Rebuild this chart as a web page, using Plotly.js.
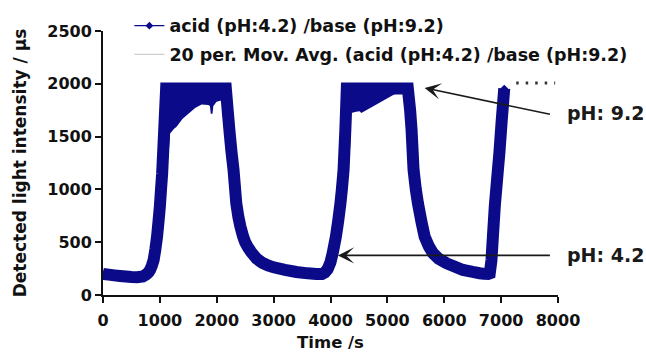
<!DOCTYPE html>
<html>
<head>
<meta charset="utf-8">
<script src="https://cdn.plot.ly/plotly-3.0.1.min.js"></script>
<style>html,body{margin:0;padding:0;background:#fff;}#chart{width:646px;height:352px;}</style>
</head>
<body>
<div id="chart"></div>
<script>
// ---- data (band centre of the detected signal) ----
const timeS = [0,100,200,300,400,500,600,700,760,800,830,860,890,920,950,975,1000,1020,1040,1075,1110,
  1300,1500,1700,1900,2100,2160,
  2200,2225,2260,2295,2343,2380,2416,2460,2500,2550,2600,2700,2800,2900,3000,3200,3400,3600,3750,3850,3900,
  3950,4000,4040,4095,4135,4175,4200,4230,4260,4287,
  4500,4700,4900,5100,5300,5360,
  5400,5425,5460,5500,5537,5600,5655,5730,5801,5900,6037,6200,6329,6500,6623,6700,6769,6800,
  6830,6855,6890,6930,6970,7010,7055];
const intensity = [200,193,186,180,175,170,168,175,195,215,240,280,330,430,550,690,840,1000,1150,1550,1955,
  1955,1955,1955,1955,1955,1955,
  1700,1546,1350,1186,870,740,648,560,500,450,410,345,305,280,262,238,218,205,198,198,212,
  245,310,400,553,700,870,1000,1186,1550,1955,
  1955,1955,1955,1955,1955,1955,
  1750,1566,1186,1000,870,690,553,460,396,345,301,265,237,218,206,200,199,205,
  330,550,850,1100,1350,1650,1955];

// noisy saturated region (outline of the point cloud) in the two base phases
const cloud1T = [1060,1150,1165,1170,1180,1250,1294,1400,1522,1620,1733,1850,1880,1895,1925,1940,1997,2060,2150,2150,2200,2240,2240,1060];
const cloud1V = [1186,1300,1420,1480,1530,1575,1594,1670,1727,1770,1803,1800,1790,1717,1717,1790,1831,1840,1840,1500,1186,1186,1955,1955];
const cloud2T = [4220,4320,4350,4362,4366,4450,4512,4542,4700,4900,5100,5274,5350,5350,5400,5440,5440,4220];
const cloud2V = [1186,1186,1450,1600,1724,1735,1739,1724,1770,1830,1890,1945,1945,1600,1186,1186,1955,1955];

const seriesName = 'acid (pH:4.2) /base (pH:9.2)';
const avgName = '20 per. Mov. Avg. (acid (pH:4.2) /base (pH:9.2)';
const xTicks = [0,1000,2000,3000,4000,5000,6000,7000,8000];
const yTicks = [0,500,1000,1500,2000,2500];

const NAVY = '#0b0b8a';
const FONT = 'DejaVu Sans';

const traces = [
  { // moving average (lies under the data band)
    x: timeS, y: intensity, mode: 'lines', name: avgName,
    line: {color: '#cfcfcf', width: 1.2}, legendgroup: 'b', legendrank: 2, hoverinfo: 'skip'
  },
  { // thick band of dense points
    x: timeS, y: intensity, mode: 'lines', showlegend: false,
    line: {color: NAVY, width: 12, simplify: false}, hoverinfo: 'skip'
  },
  {
    x: cloud1T, y: cloud1V, mode: 'lines', fill: 'toself', fillcolor: NAVY,
    line: {width: 0, color: NAVY}, showlegend: false, hoverinfo: 'skip'
  },
  {
    x: cloud2T, y: cloud2V, mode: 'lines', fill: 'toself', fillcolor: NAVY,
    line: {width: 0, color: NAVY}, showlegend: false, hoverinfo: 'skip'
  },
  { // legend-bearing series
    x: timeS, y: intensity, mode: 'lines+markers', name: seriesName,
    line: {color: NAVY, width: 1.2}, marker: {color: NAVY, size: 6, symbol: 'diamond'},
    legendgroup: 'a', legendrank: 1
  }
];

const axisCommon = {
  showline: true, linewidth: 2, linecolor: '#111', ticks: 'outside', ticklen: 6, tickwidth: 2,
  tickcolor: '#111', showgrid: false, zeroline: false, automargin: false,
  tickfont: {family: FONT, size: 16, weight: 'bold', color: '#111'}
};

const layout = {
  width: 646, height: 352,
  margin: {l: 103, r: 88, t: 31, b: 57, autoexpand: false},
  paper_bgcolor: '#fff', plot_bgcolor: '#fff',
  font: {family: FONT, color: '#111'},
  xaxis: Object.assign({}, axisCommon, {
    range: [0, 8000], tickvals: xTicks, ticktext: xTicks.map(String), ticklabelstandoff: 4,
    title: {text: 'Time /s', standoff: 8, font: {family: FONT, size: 16.5, weight: 'bold', color: '#111'}}
  }),
  yaxis: Object.assign({}, axisCommon, {
    range: [0, 2500], tickvals: yTicks, ticktext: yTicks.map(String),
    title: {text: 'Detected light intensity / µs', standoff: 16, font: {family: FONT, size: 17, weight: 'bold', color: '#111'}}
  }),
  showlegend: true,
  legend: {
    x: 0.058, y: 1.088, xanchor: 'left', yanchor: 'top', bgcolor: 'rgba(0,0,0,0)',
    font: {family: FONT, size: 17.5, weight: 'bold', color: '#111'},
    tracegroupgap: 3, traceorder: 'grouped'
  },
  shapes: [
    {type: 'line', xref: 'x', yref: 'y', x0: 7265, x1: 7950, y0: 2008, y1: 2008,
     line: {color: '#333', width: 3, dash: '2.5px,7px'}}
  ],
  annotations: [
    {xref: 'x', yref: 'y', axref: 'x', ayref: 'y', x: 5655, y: 1961, ax: 7884, ay: 1708,
     text: '', showarrow: true, arrowhead: 3, arrowsize: 1.7, arrowwidth: 1.6, arrowcolor: '#1a1a1a'},
    {xref: 'x', yref: 'y', axref: 'x', ayref: 'y', x: 4130, y: 375, ax: 7884, ay: 375,
     text: '', showarrow: true, arrowhead: 3, arrowsize: 1.7, arrowwidth: 1.6, arrowcolor: '#1a1a1a'},
    {xref: 'paper', yref: 'paper', x: 1.0147, y: 0.6896, xanchor: 'left', yanchor: 'middle',
     text: 'pH: 9.2', showarrow: false, font: {family: FONT, size: 19, weight: 'bold', color: '#1a1a1a'}},
    {xref: 'paper', yref: 'paper', x: 1.0147, y: 0.1518, xanchor: 'left', yanchor: 'middle',
     text: 'pH: 4.2', showarrow: false, font: {family: FONT, size: 19, weight: 'bold', color: '#1a1a1a'}}
  ]
};

Plotly.newPlot('chart', traces, layout, {displayModeBar: false, staticPlot: true});
</script>
</body>
</html>
